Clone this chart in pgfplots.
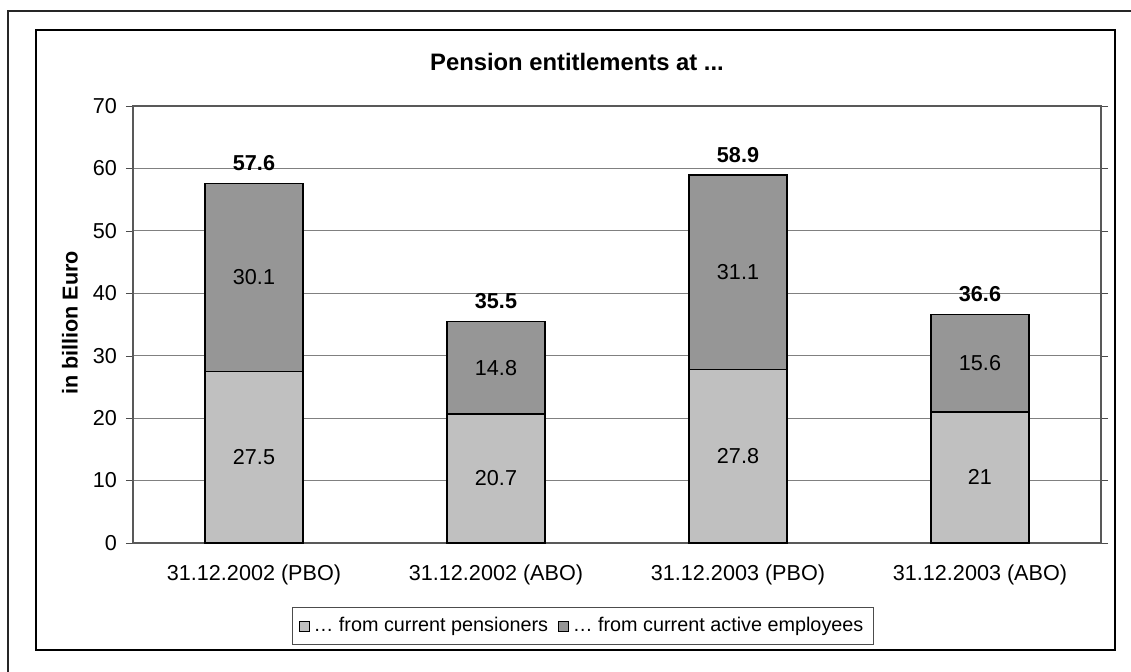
\documentclass[border=0pt]{standalone}
\usepackage{fontspec}
\setmainfont{Liberation Sans}
\usepackage{pgfplots}
\pgfplotsset{compat=1.18}
\definecolor{pensioners}{HTML}{C0C0C0}
\definecolor{actives}{HTML}{969696}
\newcommand{\chartfont}{\fontsize{10.8}{13}\selectfont}
\begin{document}
\begin{tikzpicture}
\useasboundingbox (0,0) rectangle (565.5pt,336pt);
% frames
\draw[line width=1.1pt, black!85] (4pt,-2pt) -- (4pt,330.5pt) -- (570pt,330.5pt);
\draw[line width=0.9pt, black] (18pt,11pt) rectangle (557.5pt,321pt);
% title and y label
\node[font=\bfseries\fontsize{11.9}{14}\selectfont] at (288.5pt,305pt) {Pension entitlements at ...};
\node[font=\bfseries\chartfont, rotate=90] at (35pt,174.5pt) {in billion Euro};
\begin{axis}[
  at={(66.5pt,64.5pt)}, anchor=south west,
  scale only axis, width=484pt, height=218.5pt,
  ybar stacked, bar width=49pt, clip=false,
  xmin=-0.5, xmax=3.5, ymin=0, ymax=70,
  xtick={0,1,2,3},
  xticklabels={31.12.2002 (PBO),31.12.2002 (ABO),31.12.2003 (PBO),31.12.2003 (ABO)},
  x tick style={draw=none},
  extra x ticks={-0.5,0.5,1.5,2.5,3.5},
  extra x tick labels={},
  extra x tick style={major tick length=3.5pt, tick align=outside, tick style={draw=black!70}, grid=none},
  ytick={0,10,...,70},
  tick align=outside, major tick length=3.5pt,
  y tick style={black!70},
  ymajorgrids, major grid style={black!50, line width=0.5pt},
  axis line style={black!65, line width=0.6pt},
  tick label style={font=\chartfont},
  /pgf/number format/assume math mode=true,
  xticklabel style={yshift=-4pt},
  yticklabel style={xshift=-1pt},
  legend style={at={(0.465,-0.19)}, anchor=center, legend columns=2,
    draw=black!70, font=\fontsize{9.9}{12}\selectfont, inner ysep=3pt, inner xsep=3pt,
    /tikz/every even column/.append style={column sep=3pt}},
  legend image code/.code={\draw[#1, draw=black, line width=0.4pt] (0pt,-2.5pt) rectangle (5pt,2.5pt);},
  visualization depends on=rawy \as \rawy,
]
\addplot[fill=pensioners, draw=black, line width=0.8pt,
  nodes near coords={\pgfmathprintnumber{\rawy}},
  every node near coord/.append style={font=\chartfont, text=black, anchor=center}]
  coordinates {(0,27.5) (1,20.7) (2,27.8) (3,21)};
% upper segments; the bold stack totals ride along as point meta
\addplot[fill=actives, draw=black, line width=0.8pt,
  point meta=explicit symbolic,
  nodes near coords={\pgfmathprintnumber{\rawy}},
  every node near coord/.append style={font=\chartfont, text=black, anchor=center,
    label={[font=\bfseries\chartfont, text=black, anchor=south, inner sep=0pt,
      yshift=1.56071*\rawy+10pt]center:{\pgfplotspointmeta}}}]
  coordinates {(0,30.1)[57.6] (1,14.8)[35.5] (2,31.1)[58.9] (3,15.6)[36.6]};
\legend{\ldots\ from current pensioners, \ldots\ from current active employees}
\end{axis}
\end{tikzpicture}
\end{document}
